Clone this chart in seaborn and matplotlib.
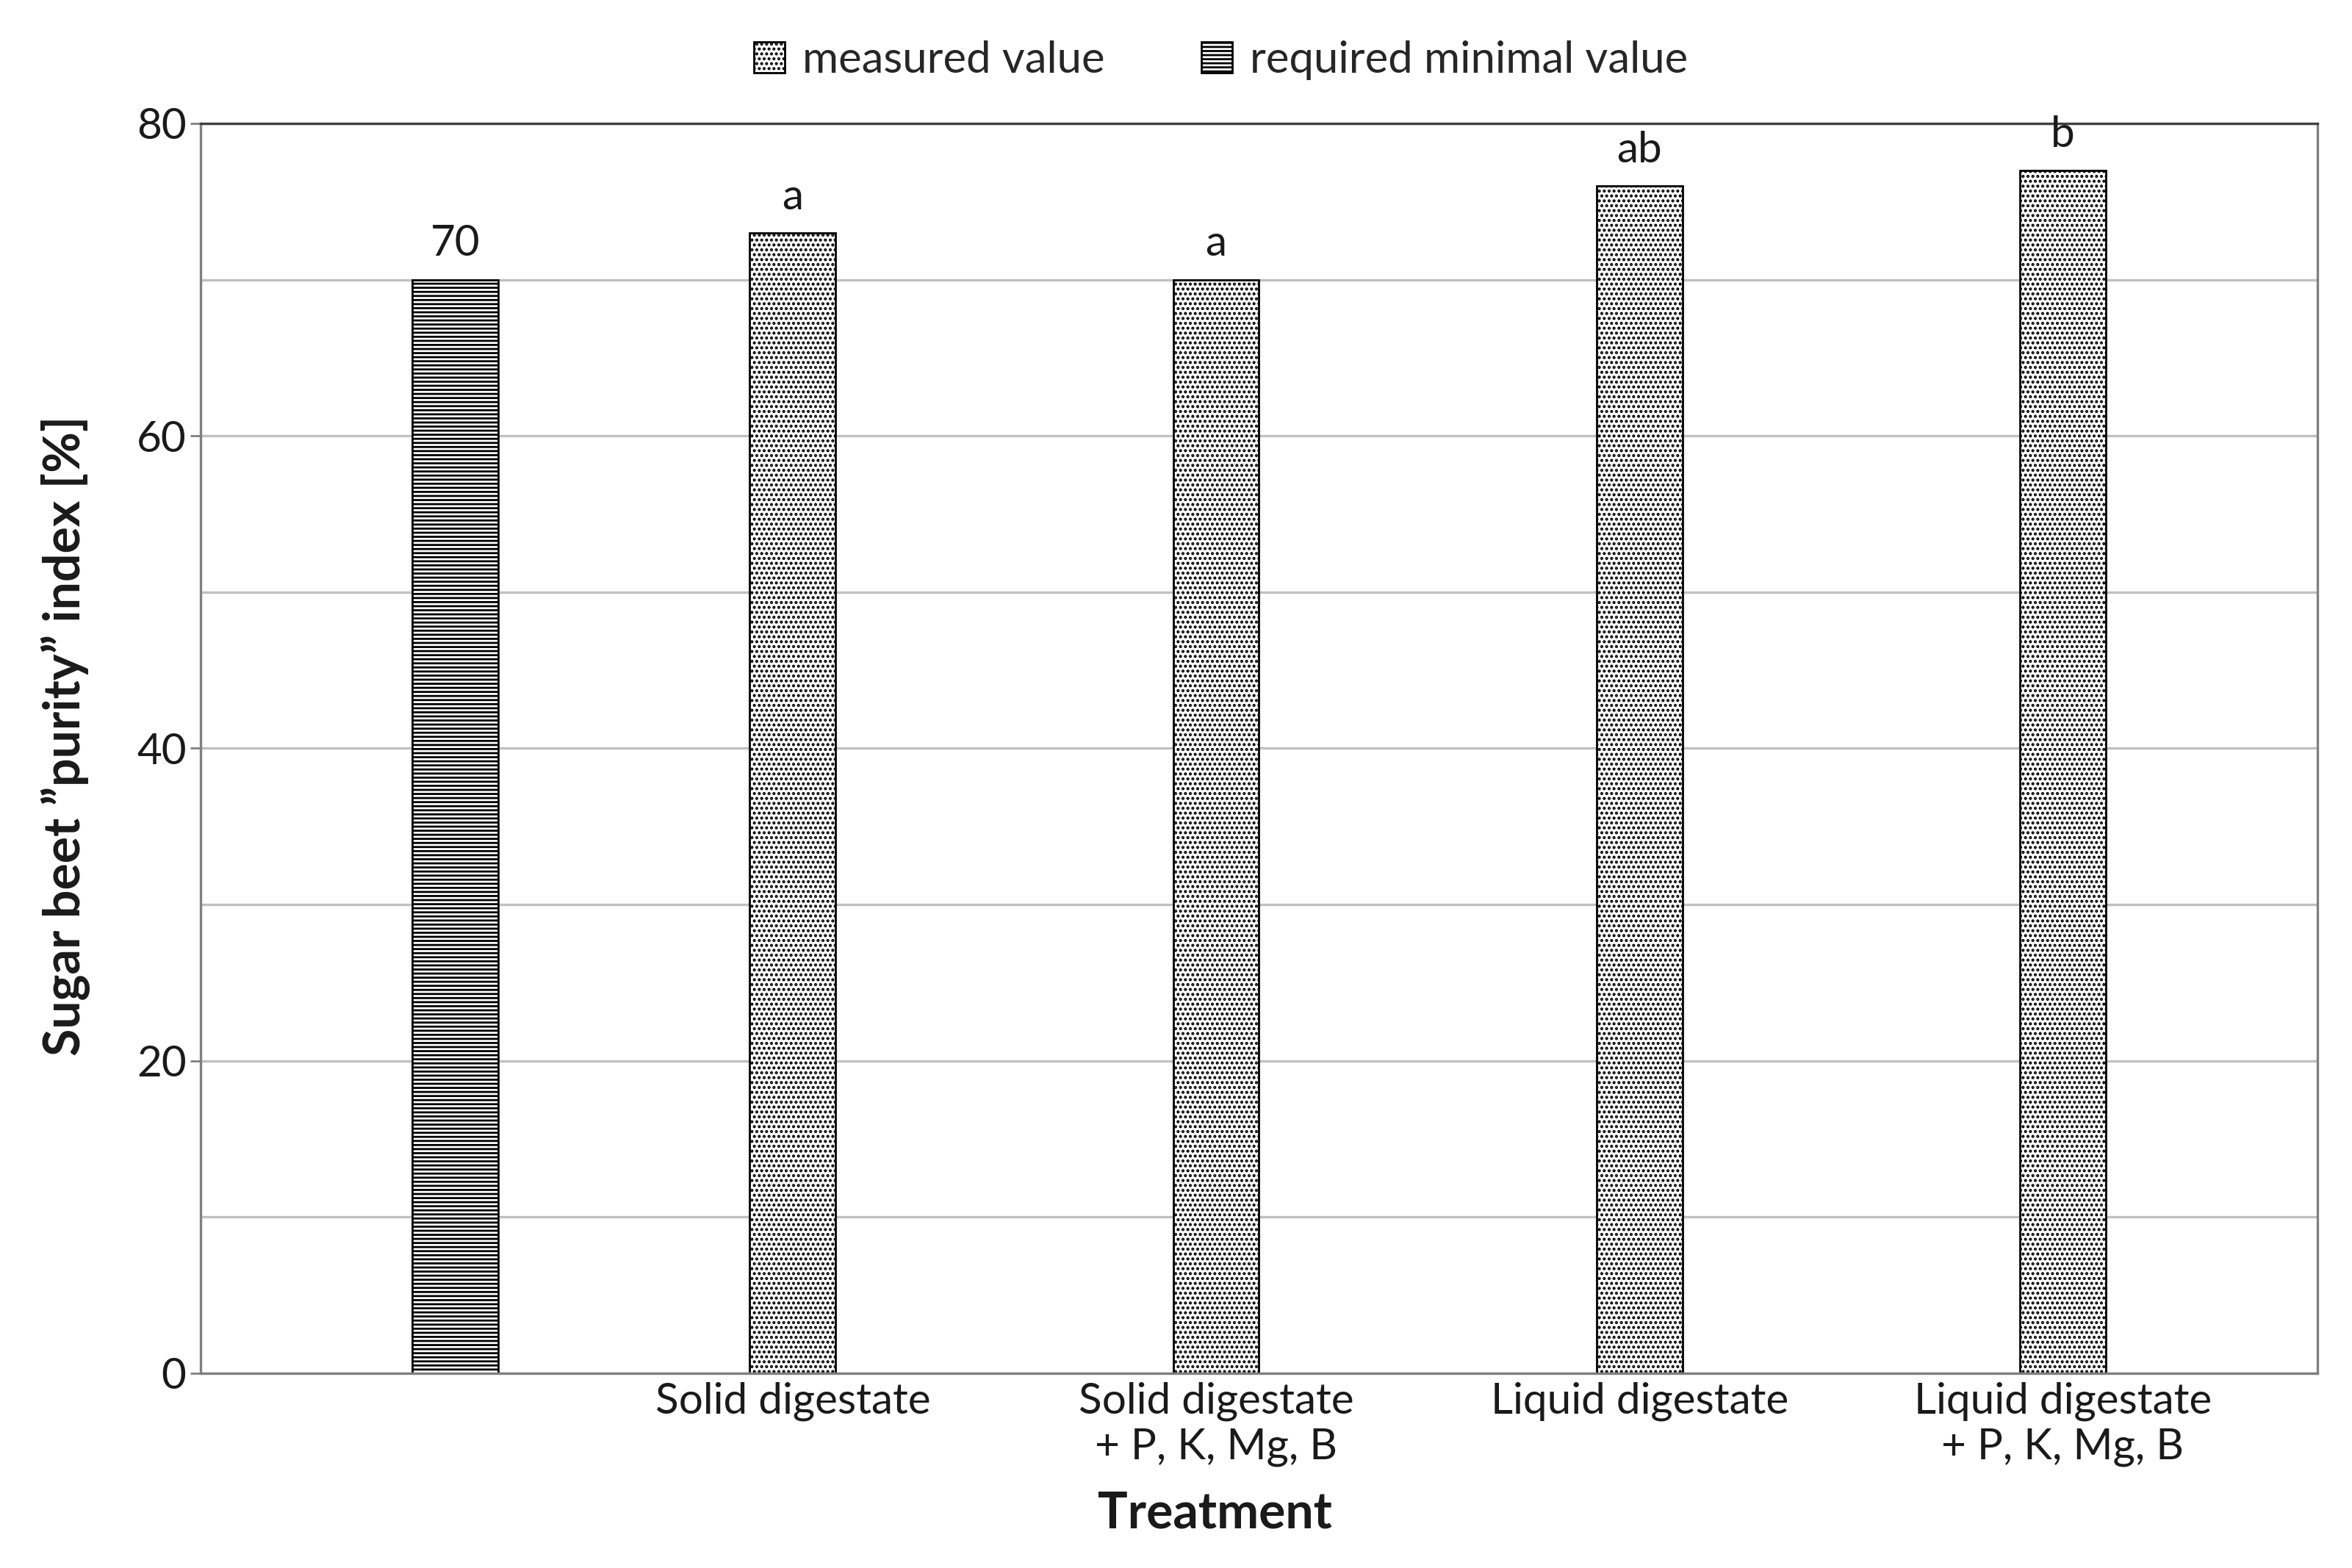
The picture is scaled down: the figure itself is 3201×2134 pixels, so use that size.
import pandas as pd
import numpy as np
import matplotlib
matplotlib.use('Agg')
import matplotlib.pyplot as plt
from matplotlib.patches import Patch
from matplotlib.ticker import MultipleLocator
import seaborn as sns

# --- data ---
treatments = ["", "Solid digestate", "Solid digestate\n+ P, K, Mg, B",
              "Liquid digestate", "Liquid digestate\n+ P, K, Mg, B"]
measured = [np.nan, 73, 70, 76, 77]
required = [70, np.nan, np.nan, np.nan, np.nan]
letters = ["a", "a", "ab", "b"]
series = ["measured value", "required minimal value"]

df = pd.DataFrame({
    "Treatment": treatments * 2,
    "value": measured + required,
    "series": [series[0]] * 5 + [series[1]] * 5,
}).dropna()

sns.set_theme(style="white")
plt.rcParams['font.family'] = ['Lato', 'DejaVu Sans']
plt.rcParams['hatch.linewidth'] = 1.0
plt.rcParams['hatch.color'] = 'black'

fig, ax = plt.subplots(figsize=(16.005, 10.67), dpi=200)
fig.subplots_adjust(left=0.0853, right=0.9853, top=0.9213, bottom=0.1242)

sns.barplot(data=df, x="Treatment", y="value", hue="series", order=treatments,
            hue_order=series, width=0.406, dodge=True, ax=ax, legend=False)

hatches = ['.....', '------']
for cont, h in zip(ax.containers, hatches):
    for bar in cont:
        bar.set_facecolor('white')
        bar.set_edgecolor('black')
        bar.set_linewidth(1.0)
        bar.set_hatch(h)

ax.bar_label(ax.containers[0], labels=letters, padding=8, fontsize=21, color='#1a1a1a')
ax.bar_label(ax.containers[1], labels=["70"], padding=8, fontsize=21, color='#1a1a1a')

# category labels sit under the measured bars, as in the original
centers = [b.get_x() + b.get_width() / 2 for b in ax.containers[0]]
ax.set_xticks(centers, treatments[1:])

ax.set_ylim(0, 80)
ax.yaxis.set_major_locator(MultipleLocator(20))
ax.yaxis.set_minor_locator(MultipleLocator(10))
ax.grid(axis='y', which='both', color='#c0c0c0', linewidth=1.2)
ax.set_axisbelow(True)
ax.tick_params(axis='y', which='major', length=5, width=1.0, color='#808080',
               labelsize=21, labelcolor='#1a1a1a', pad=2, left=True)
ax.tick_params(axis='y', which='minor', length=0)
ax.tick_params(axis='x', length=0, labelsize=21, labelcolor='#1a1a1a', pad=4)
for s in ax.spines.values():
    s.set_color('#808080')
    s.set_linewidth(1.2)
ax.spines['top'].set_color('#404040')

ax.set_xlabel("Treatment", fontsize=24.5, fontweight='bold', color='#1a1a1a')
ax.xaxis.set_label_coords(0.479, -0.094)
ax.set_ylabel("Sugar beet \u201dpurity\u201d index [%]", fontsize=24.5, fontweight='bold',
              color='#1a1a1a')
ax.yaxis.set_label_coords(-0.052, 0.51)

handles = [Patch(facecolor='white', edgecolor='black', hatch=h, label=l)
           for h, l in zip(hatches, series)]
ax.legend(handles=handles, loc='lower center', bbox_to_anchor=(0.482, 1.003), ncol=2,
          frameon=False, fontsize=21.5, handlelength=0.7, handleheight=0.7,
          columnspacing=2.2, handletextpad=0.4)

fig.savefig("out.png", dpi=200)
